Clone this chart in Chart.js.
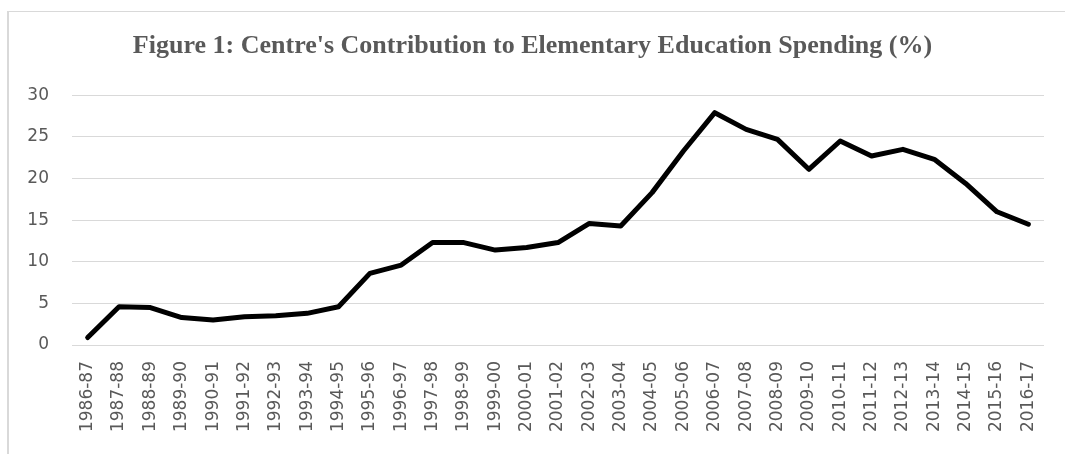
<!DOCTYPE html>
<html>
<head>
<meta charset="utf-8">
<script src="https://cdn.jsdelivr.net/npm/chart.js@4/dist/chart.umd.min.js"></script>
<style>
  html, body { margin: 0; padding: 0; background: #ffffff; overflow: hidden; }
  body { width: 1065px; height: 454px; position: relative; }
  #frame { position: absolute; left: 7px; top: 11px; width: 1058px; height: 443px;
           border-left: 2px solid #d9d9d9; border-top: 1px solid #d9d9d9; box-sizing: border-box; }
  #wrap { position: absolute; left: 0; top: 0; width: 1065px; height: 454px; }
</style>
</head>
<body>
<div id="frame"></div>
<div id="wrap"><canvas id="c" width="1065" height="454"></canvas></div>
<script>
const titleText = "Figure 1: Centre's Contribution to Elementary Education Spending (%)";
const years = ["1986-87","1987-88","1988-89","1989-90","1990-91","1991-92","1992-93","1993-94","1994-95","1995-96","1996-97","1997-98","1998-99","1999-00","2000-01","2001-02","2002-03","2003-04","2004-05","2005-06","2006-07","2007-08","2008-09","2009-10","2010-11","2011-12","2012-13","2013-14","2014-15","2015-16","2016-17"];
const centreShare = [0.9, 4.6, 4.5, 3.3, 3.0, 3.4, 3.5, 3.8, 4.6, 8.6, 9.6, 12.3, 12.3, 11.4, 11.7, 12.3, 14.6, 14.3, 18.3, 23.3, 27.9, 25.9, 24.7, 21.1, 24.5, 22.7, 23.5, 22.3, 19.4, 16.0, 14.5];
const yTicks = [0, 5, 10, 15, 20, 25, 30];

new Chart(document.getElementById('c'), {
  type: 'line',
  data: {
    labels: years,
    datasets: [{
      label: 'Centre share',
      data: centreShare,
      borderColor: '#000000',
      backgroundColor: '#000000',
      borderWidth: 5,
      pointRadius: 0,
      pointHoverRadius: 0,
      tension: 0,
      borderCapStyle: 'round',
      borderJoinStyle: 'round',
      fill: false
    }]
  },
  options: {
    responsive: false,
    animation: false,
    devicePixelRatio: 1,
    layout: { padding: { left: 16, right: 16, top: 0, bottom: 0 } },
    plugins: {
      legend: { display: false },
      tooltip: { enabled: false },
      title: {
        display: true,
        text: titleText,
        color: '#595959',
        font: { family: '"Liberation Serif", "Times New Roman", serif', size: 26, weight: 'bold' },
        padding: { top: 31, bottom: 33 }
      }
    },
    scales: {
      x: {
        type: 'category',
        offset: true,
        grid: { display: false, drawTicks: false },
        border: { display: false },
        ticks: {
          color: '#595959',
          font: { family: '"DejaVu Sans", sans-serif', size: 17 },
          minRotation: 90,
          maxRotation: 90,
          autoSkip: false,
          padding: 16
        },
        afterFit: (s) => { s.height = 109; }
      },
      y: {
        min: 0,
        max: 30,
        afterBuildTicks: (s) => { s.ticks = yTicks.map(v => ({ value: v })); },
        grid: { color: '#d9d9d9', lineWidth: 1, drawTicks: false },
        border: { display: false },
        ticks: {
          color: '#595959',
          font: { family: '"DejaVu Sans", sans-serif', size: 17 },
          padding: 23
        },
        afterFit: (s) => { s.width = 56; }
      }
    }
  }
});
</script>
</body>
</html>
